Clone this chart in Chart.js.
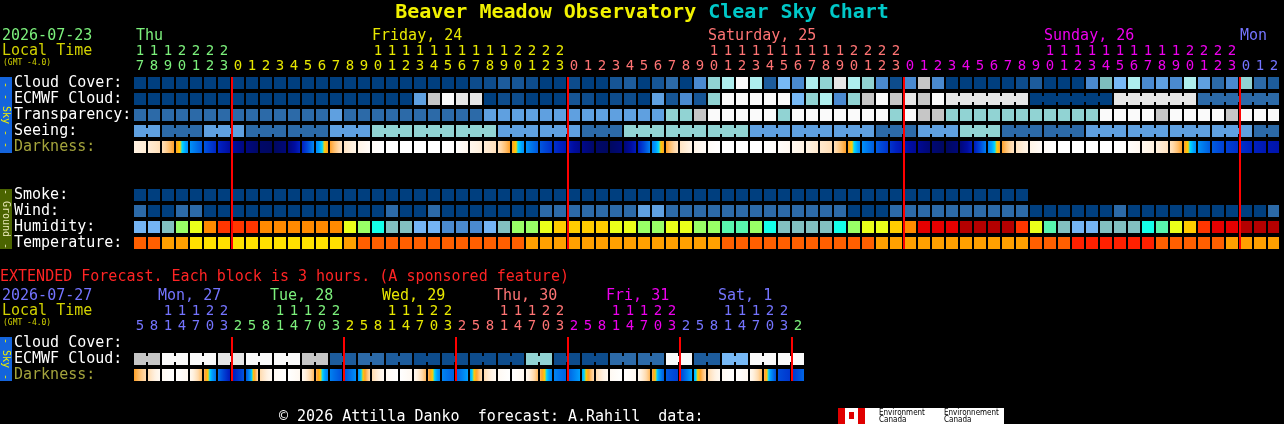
<!DOCTYPE html>
<html>
<head>
<meta charset="utf-8">
<title>Beaver Meadow Observatory Clear Sky Chart</title>
<script src="https://cdn.jsdelivr.net/npm/chart.js@4.4.1/dist/chart.umd.min.js"></script>
<style>
  html, body { margin:0; padding:0; background:#000; }
  #page { position:relative; width:1284px; height:424px; overflow:hidden; background:#000;
          font-family:'DejaVu Sans Mono', monospace; }
  .t { position:absolute; white-space:pre; font-size:15px; line-height:15px; color:#fff; }
  canvas { position:absolute; left:0; top:0; }
  .side { position:absolute; left:0; width:12px; overflow:hidden; }
  .side span { position:absolute; left:50%; top:50%; transform:translate(-50%,-50%) rotate(90deg);
               white-space:pre; font-size:10px; line-height:10px; }
</style>
</head>
<body>
<div id="page">
  <canvas id="main" width="1284" height="424"></canvas>
  <canvas id="ext" width="1284" height="424"></canvas>
</div>
<script>
// ======================= DATA =======================
const startDate = '2026-07-23';
const hourLabels = ['17','18','19','20','21','22','23',
  '0','1','2','3','4','5','6','7','8','9','10','11','12','13','14','15','16','17','18','19','20','21','22','23',
  '0','1','2','3','4','5','6','7','8','9','10','11','12','13','14','15','16','17','18','19','20','21','22','23',
  '0','1','2','3','4','5','6','7','8','9','10','11','12','13','14','15','16','17','18','19','20','21','22','23',
  '0','1','2'];
const dayNames = ['Thu', 'Friday, 24', 'Saturday, 25', 'Sunday, 26', 'Mon'];

// cloud cover, percent
const cloudCover = [
  0,0,0,0,0,0,0,0,0,0,
  0,0,0,0,0,0,0,0,0,0,
  0,0,0,0,10,10,20,15,10,0,
  0,10,0,0,15,20,0,15,30,0,
  40,70,80,100,80,20,60,40,80,70,
  95,80,70,40,10,40,90,40,0,0,
  0,0,0,10,20,0,0,0,40,65,
  60,80,40,50,40,80,50,30,40,70,
  30,20];
// ECMWF cloud, percent (6-hourly from Sunday 03h)
const ecmwfCloud = [
  0,0,0,0,0,0,0,0,0,0,
  0,0,0,0,0,0,0,0,0,0,
  50,90,100,95,95,0,10,10,0,0,
  0,15,10,0,10,10,0,50,15,40,
  15,70,100,100,100,100,100,60,70,80,
  40,70,90,100,90,95,90,100,95,95,
  95,95,95,95,0,0,0,0,0,0,
  95,95,95,95,95,95,30,30,30,30,
  30,30];
const ecmwfSixHourlyFrom = 58;
// transparency: 0 too cloudy, 1 poor, 2 below avg, 3 average, 4 above avg, 5 transparent
const transparency = [
  4,4,4,4,4,4,4,4,4,4,
  4,4,4,4,3,4,4,4,4,4,
  4,4,4,4,4,3,3,3,3,3,
  3,3,3,3,3,3,3,3,2,2,
  1,0,0,0,0,0,2,0,0,0,
  0,0,0,0,2,0,1,1,2,2,
  2,2,2,2,2,2,2,2,2,0,
  0,0,0,1,0,0,0,0,1,0,
  0,0];
// seeing: 1 bad ... 5 excellent (3-hour blocks)
const seeing = [
  3,3,4,4,4,3,3,3,4,4,
  4,4,4,4,3,3,3,2,2,2,
  2,2,2,2,2,2,3,3,3,3,
  3,3,4,4,4,2,2,2,2,2,
  2,2,2,2,3,3,3,3,3,3,
  3,3,3,4,4,4,3,3,3,2,
  2,2,4,4,4,4,4,4,3,3,
  3,3,3,3,3,3,3,3,3,3,
  4,4];
// darkness index: -4 daylight ... 0 twilight ... 6 darkest
const darkness = [
  -3,-2.5,-2,0,1.2,2.2,3.5,4.5,5.5,6,
  6,4.5,1.5,0,-2,-2.8,-3.5,-4,-4,-4,
  -4,-4,-4,-3.8,-3,-2.6,-2,0,1.2,2.2,
  3,3.8,5.5,6,6,4.5,1.8,0,-2,-2.8,
  -3.5,-4,-4,-4,-4,-4,-3.7,-3.3,-2.8,-2.4,
  -2,0,1.2,2,3,4,4.8,6,6,4.5,
  1.8,0,-2,-2.8,-3.5,-4,-4,-4,-4,-4,
  -4,-3.8,-3.2,-2.7,-2,0,1.2,2,2.4,2.8,
  3.2,3.6];
// smoke, ug/m^3
const smoke = [
  0,0,0,0,0,0,0,0,0,0,
  0,0,0,0,0,0,0,0,0,0,
  0,0,0,0,0,0,0,0,0,0,
  0,0,0,0,0,0,0,0,0,0,
  0,0,0,0,0,0,0,0,0,0,
  0,0,0,0,0,0,0,0,0,0,
  0,0,0,0];
// wind, mph
const wind = [
  8,3,3,8,8,3,3,3,3,3,
  3,3,3,3,3,3,3,3,8,3,
  3,8,3,3,3,3,3,3,3,8,
  8,8,8,8,8,8,14,14,8,8,
  8,8,8,8,8,8,8,8,8,8,
  8,3,3,3,8,8,8,8,8,8,
  8,8,8,8,3,3,3,3,3,3,
  8,3,3,3,3,3,3,3,3,3,
  3,8];
// relative humidity, percent
const humidity = [
  40,40,45,60,65,75,80,80,80,75,
  75,75,75,75,75,65,60,50,45,45,
  40,40,35,35,35,40,45,60,60,65,
  70,70,70,70,65,65,60,60,65,65,
  60,60,55,55,60,50,45,45,45,45,
  50,60,65,65,70,75,90,90,90,95,
  95,95,95,80,65,55,45,40,40,45,
  45,45,50,55,65,70,80,90,90,95,
  95,95];
// temperature, F
const temperature = [
  77,77,70,70,62,62,62,62,62,62,
  62,62,62,62,62,70,77,77,77,77,
  77,77,77,77,77,77,77,77,70,70,
  70,70,70,70,70,70,70,70,70,70,
  70,70,77,77,77,77,77,77,77,77,
  77,77,77,70,70,70,70,70,70,70,
  70,70,70,70,77,77,77,84,84,84,
  84,84,84,77,77,77,77,77,70,70,
  70,70];

// ---- extended forecast (3-hour blocks) ----
const extStartDate = '2026-07-27';
const extHourLabels = ['5','8','11','14','17','20','23',
  '2','5','8','11','14','17','20','23',
  '2','5','8','11','14','17','20','23',
  '2','5','8','11','14','17','20','23',
  '2','5','8','11','14','17','20','23',
  '2','5','8','11','14','17','20','23',
  '2'];
const extDayNames = ['Mon, 27', 'Tue, 28', 'Wed, 29', 'Thu, 30', 'Fri, 31', 'Sat, 1', 'Sun, 2'];
const extCloudCover = [];
const extEcmwf = [
  90,90,100,100,100,100,95,95,100,100,100,100,90,90,20,20,
  30,30,20,20,10,10,10,10,10,10,10,10,70,70,10,10,
  10,10,30,30,30,30,100,100,20,20,60,60,100,100,100,100];
const extDarkness = [
  -1,-3.2,-4,-4,-3,0.3,2,4.5,
  -1,-3.2,-4,-4,-3,0.3,1.5,2.2,
  -1,-3.2,-4,-4,-3,0.3,1.4,1.6,
  -1,-3.2,-4,-4,-3,0.3,1.4,1.6,
  -1,-3.2,-4,-4,-3,0.3,3,1.4,
  -1,-3.2,-4,-4,-3,0.3,3.5,1.4];

// ======================= STYLE =======================
const FONT = "'DejaVu Sans Mono', monospace";
const dayColors = ['#7cf07c', '#e8e800', '#ff7474', '#ee00ee', '#7474ff'];
const PITCH = 14, CELL = 12, LEFT = 133, RIGHT_PAD = 5, W = 1284, H = 424;
const HALF = (CELL / 2) / PITCH;
const X_MAX = -0.5 + (W - LEFT - RIGHT_PAD) / PITCH;

const cloudStops = [[0,'#003f7f'],[10,'#0d4c8c'],[15,'#165595'],[20,'#1d5c9c'],[30,'#2c6aa8'],
  [40,'#4a8ad0'],[50,'#5fa0e0'],[60,'#77b9f6'],[65,'#7ebebe'],[70,'#91d3d3'],[80,'#aeeeee'],
  [90,'#c6c6c6'],[95,'#e6e6e6'],[100,'#fafafa']];
const transpColors = ['#fafafa','#c6c6c6','#91d3d3','#5fa0e0','#2c6aa8','#003f7f'];
const seeingColors = ['#fafafa','#c6c6c6','#91d3d3','#5fa0e0','#2c6aa8','#003f7f'];
const windStops = [[3,'#003f7f'],[8,'#2c6aa8'],[14,'#5fa0e0'],[20,'#91d3d3']];
const smokeStops = [[0,'#003f7f'],[2,'#2c6aa8'],[5,'#5fa0e0']];
const humStops = [[35,'#4a8ad0'],[40,'#74b4f4'],[45,'#82c0c0'],[50,'#14ffe8'],[55,'#58f5ae'],
  [60,'#99ff66'],[65,'#eaff1a'],[70,'#ffcc00'],[75,'#ff8a00'],[80,'#ff3600'],[90,'#e60000'],[95,'#b40000']];
const tempStops = [[62,'#ffe000'],[70,'#ffa000'],[77,'#ff5f00'],[84,'#ff2000']];
const darkStops = [[-4,[255,255,255]],[-3.5,[255,248,240]],[-3,[255,242,226]],[-2.5,[255,230,200]],
  [-2,[255,216,168]],[-1.5,[255,192,112]],[-1,[255,160,40]],[-0.45,[255,208,0]],[-0.2,[0,220,255]],
  [0.3,[0,160,255]],[1.2,[0,112,232]],[2,[0,72,216]],[3,[0,32,192]],[4,[0,12,160]],[5,[0,8,128]],[6,[0,8,96]]];

function nearest(stops, v) {
  let best = stops[0];
  for (const s of stops) if (Math.abs(s[0] - v) < Math.abs(best[0] - v)) best = s;
  return best[1];
}
const cloudColor = v => nearest(cloudStops, v);
const transpColor = v => transpColors[v];
const seeingColor = v => seeingColors[v];
const windColor = v => nearest(windStops, v);
const smokeColor = v => nearest(smokeStops, v);
const humColor = v => nearest(humStops, v);
const tempColor = v => nearest(tempStops, v);
function darkColor(v) {
  if (v <= darkStops[0][0]) return 'rgb(' + darkStops[0][1].join(',') + ')';
  for (let k = 1; k < darkStops.length; k++) {
    const [v1, c1] = darkStops[k], [v0, c0] = darkStops[k - 1];
    if (v <= v1) {
      const t = (v - v0) / (v1 - v0);
      return 'rgb(' + c0.map((c, j) => Math.round(c + (c1[j] - c) * t)).join(',') + ')';
    }
  }
  return 'rgb(' + darkStops[darkStops.length - 1][1].join(',') + ')';
}

// ======================= HELPERS =======================
function dayIndexOf(labels) {
  const out = []; let d = 0;
  labels.forEach((h, i) => { if (i > 0 && +h < +labels[i - 1]) d++; out.push(d); });
  return out;
}
function cellDataset(values, row, colorFn) {
  return { data: values.map((v, i) => ({ x: [i - HALF, i + HALF], y: row })),
           backgroundColor: values.map(colorFn), barThickness: CELL };
}
function linkDataset(values, row, colorFn, linked) {
  const data = [], colors = [];
  let s = 0;
  for (let i = 1; i <= values.length; i++) {
    if (i === values.length || !linked(i - 1, i)) {
      if (i - 1 > s) { data.push({ x: [s, i - 1], y: row }); colors.push(colorFn(values[s])); }
      s = i;
    }
  }
  return { data, backgroundColor: colors, barThickness: 6 };
}
function darkDataset(values, row) {
  return {
    data: values.map((v, i) => ({ x: [i - HALF, i + HALF], y: row })),
    barThickness: CELL,
    backgroundColor: (ctx) => {
      const i = ctx.dataIndex, xs = ctx.chart.scales && ctx.chart.scales.x;
      if (i === undefined || !xs) return darkColor(0);
      const a = i > 0 ? (values[i - 1] + values[i]) / 2 : values[i];
      const b = i < values.length - 1 ? (values[i] + values[i + 1]) / 2 : values[i];
      const x0 = xs.getPixelForValue(i - HALF), x1 = xs.getPixelForValue(i + HALF);
      if (!Number.isFinite(x0) || !Number.isFinite(x1) || x1 - x0 < 1 || Math.abs(a - b) < 0.05) return darkColor(values[i]);
      const g = ctx.chart.ctx.createLinearGradient(x0, 0, x1, 0);
      for (let k = 0; k <= 12; k++) g.addColorStop(k / 12, darkColor(a + (b - a) * k / 12));
      return g;
    }
  };
}

const midnightPlugin = {
  id: 'midnight',
  afterDatasetsDraw(chart, args, opts) {
    const { ctx, scales: { x, y } } = chart;
    ctx.save();
    ctx.fillStyle = '#ff0000';
    for (const i of opts.indices) {
      const px = Math.round(x.getPixelForValue(i - 0.5));
      for (const [r0, r1] of opts.spans) {
        const top = y.getPixelForValue(r0) - CELL / 2 - opts.extend;
        const bot = y.getPixelForValue(r1) + CELL / 2 + opts.extend;
        ctx.fillRect(px, top, 2, bot - top);
      }
    }
    ctx.restore();
  }
};

function gridChart(canvasId, labels, datasets, nRows, areaTop, colorStart, spans) {
  const days = dayIndexOf(labels);
  const midnights = days.map((d, i) => (i > 0 && d !== days[i - 1]) ? i : -1).filter(i => i >= 0);
  const AXIS_H = 32;
  return new Chart(document.getElementById(canvasId), {
    type: 'bar',
    data: { datasets },
    options: {
      indexAxis: 'y', responsive: false, animation: false, devicePixelRatio: 1,
      layout: { padding: { left: LEFT, right: RIGHT_PAD, top: areaTop - AXIS_H, bottom: H - areaTop - nRows * 16 } },
      datasets: { bar: { grouped: false, borderWidth: 0, inflateAmount: 0, borderSkipped: false } },
      plugins: {
        legend: { display: false }, tooltip: { enabled: false }, title: { display: false },
        midnight: { indices: midnights, spans, extend: 0 }
      },
      scales: {
        x: {
          type: 'linear', position: 'top', bounds: 'data', offset: false, min: -0.5, max: X_MAX,
          grid: { display: false, drawTicks: false }, border: { display: false },
          afterBuildTicks: s => { s.ticks = labels.map((l, i) => ({ value: i })); },
          afterFit: s => { s.height = AXIS_H; },
          ticks: {
            autoSkip: false, maxRotation: 0, minRotation: 0, padding: 1,
            font: { family: FONT, size: 14, lineHeight: '15px' },
            color: c => dayColors[(colorStart + (days[c.index] || 0)) % dayColors.length],
            callback: (v) => { const h = labels[v]; if (h === undefined) return ''; return [h.length > 1 ? h[0] : '', h[h.length - 1]]; }
          }
        },
        y: { type: 'linear', display: false, reverse: true, bounds: 'data', offset: false,
             min: -0.5, max: nRows - 0.5, grid: { offset: false } }
      }
    },
    plugins: [midnightPlugin]
  });
}

// ======================= MAIN CHART =======================
const seeingLinked = (a, b) => (+hourLabels[b]) % 3 !== 1;
const ecmwfLinked = (a, b) => a >= ecmwfSixHourlyFrom && (+hourLabels[b]) % 6 !== 3;
const mainDatasets = [
  cellDataset(cloudCover, 0, cloudColor),
  cellDataset(ecmwfCloud, 1, cloudColor),
  linkDataset(ecmwfCloud, 1, cloudColor, ecmwfLinked),
  cellDataset(transparency, 2, transpColor),
  cellDataset(seeing, 3, seeingColor),
  linkDataset(seeing, 3, seeingColor, seeingLinked),
  darkDataset(darkness, 4),
  cellDataset(smoke, 7, smokeColor),
  cellDataset(wind, 8, windColor),
  cellDataset(humidity, 9, humColor),
  cellDataset(temperature, 10, tempColor)
];
const mainChart = gridChart('main', hourLabels, mainDatasets, 11, 75, 0, [[0, 10]]);

// ======================= EXTENDED CHART =======================
const extLinked = (a, b) => (+extHourLabels[b]) % 6 !== 5;
const extDatasets = [
  cellDataset(extCloudCover, 0, cloudColor),
  cellDataset(extEcmwf, 1, cloudColor),
  linkDataset(extEcmwf, 1, cloudColor, extLinked),
  darkDataset(extDarkness, 2)
];
const extChart = gridChart('ext', extHourLabels, extDatasets, 3, 335, 4, [[0, 2]]);

// ======================= TEXT =======================
const page = document.getElementById('page');
function addText(text, left, top, color, o = {}) {
  const d = document.createElement('div');
  d.className = 't';
  d.textContent = text;
  d.style.left = left + 'px'; d.style.top = top + 'px'; d.style.color = color;
  if (o.size) { d.style.fontSize = o.size + 'px'; d.style.lineHeight = o.size + 'px'; }
  if (o.bold) d.style.fontWeight = 'bold';
  page.appendChild(d);
  return d;
}
// title
const title = document.createElement('div');
title.className = 't';
title.style.cssText = 'left:0;top:1px;width:1284px;text-align:center;font-size:20px;line-height:20px;font-weight:bold;';
title.innerHTML = '<span style="color:#f2f200">Beaver Meadow Observatory</span> <span style="color:#00c8c8">Clear Sky Chart</span>';
page.appendChild(title);

function header(chart, labels, names, date, colorStart, topY, anchorHour, dx) {
  const days = dayIndexOf(labels);
  addText(date, 2, topY, dayColors[colorStart % 5]);
  addText('Local Time', 2, topY + 15, '#d2d200');
  addText('(GMT -4.0)', 3, topY + 30.5, '#d2d200', { size: 8 });
  const xs = chart.scales.x;
  names.forEach((name, d) => {
    const cells = days.map((dd, i) => dd === d ? i : -1).filter(i => i >= 0);
    if (!cells.length) return;
    let anchor = cells.find(i => labels[i] === anchorHour);
    let off = dx;
    if (anchor === undefined) { if (anchorHour === '11') return; anchor = cells[0]; off = d === 0 ? 2 : 0; }
    addText(name, xs.getPixelForValue(anchor) - CELL / 2 + off, topY, dayColors[(colorStart + d) % 5]);
  });
}
header(mainChart, hourLabels, dayNames, startDate, 0, 28, '10', 0);
header(extChart, extHourLabels, extDayNames, extStartDate, 4, 288, '11', -4);

function rowLabels(chart, rows) {
  const ys = chart.scales.y;
  rows.forEach(([txt, r, color]) => addText(txt, 14, ys.getPixelForValue(r) - CELL / 2 - 2.5, color || '#ffffff'));
}
rowLabels(mainChart, [['Cloud Cover:', 0], ['ECMWF Cloud:', 1], ['Transparency:', 2], ['Seeing:', 3],
  ['Darkness:', 4, '#a3a33c'], ['Smoke:', 7], ['Wind:', 8], ['Humidity:', 9], ['Temperature:', 10]]);
rowLabels(extChart, [['Cloud Cover:', 0], ['ECMWF Cloud:', 1], ['Darkness:', 2, '#a3a33c']]);

addText('EXTENDED Forecast. Each block is 3 hours. (A sponsored feature)', 0, 269, '#ff2424');

function sideBar(top, height, bg, txt, color) {
  const d = document.createElement('div');
  d.className = 'side';
  d.style.top = top + 'px'; d.style.height = height + 'px'; d.style.background = bg;
  const s = document.createElement('span');
  s.textContent = txt; s.style.color = color;
  d.appendChild(s); page.appendChild(d);
}
sideBar(77, 76, '#1464dc', '- - Sky - -', '#f0f000');
sideBar(189, 60, '#4b6400', '- Ground -', '#e6e6b4');
sideBar(337, 44, '#1464dc', '- Sky -', '#f0f000');

// footer
addText('\u00a9 2026 Attilla Danko  forecast: A.Rahill  data:', 279, 409, '#ffffff');
const logo = document.createElement('div');
logo.style.cssText = 'position:absolute;left:838px;top:408px;width:166px;height:16px;background:#fff;overflow:hidden;';
logo.innerHTML =
  '<div style="position:absolute;left:0;top:0;width:7px;height:16px;background:#e00000"></div>' +
  '<div style="position:absolute;left:20px;top:0;width:7px;height:16px;background:#e00000"></div>' +
  '<div style="position:absolute;left:11px;top:4px;width:5px;height:7px;background:#e00000"></div>' +
  '<div style="position:absolute;left:41px;top:1px;font:8px/7px \'DejaVu Sans Condensed\',sans-serif;color:#000;white-space:pre">Environment\nCanada</div>' +
  '<div style="position:absolute;left:106px;top:1px;font:8px/7px \'DejaVu Sans Condensed\',sans-serif;color:#000;white-space:pre">Environnement\nCanada</div>';
page.appendChild(logo);
</script>
</body>
</html>
